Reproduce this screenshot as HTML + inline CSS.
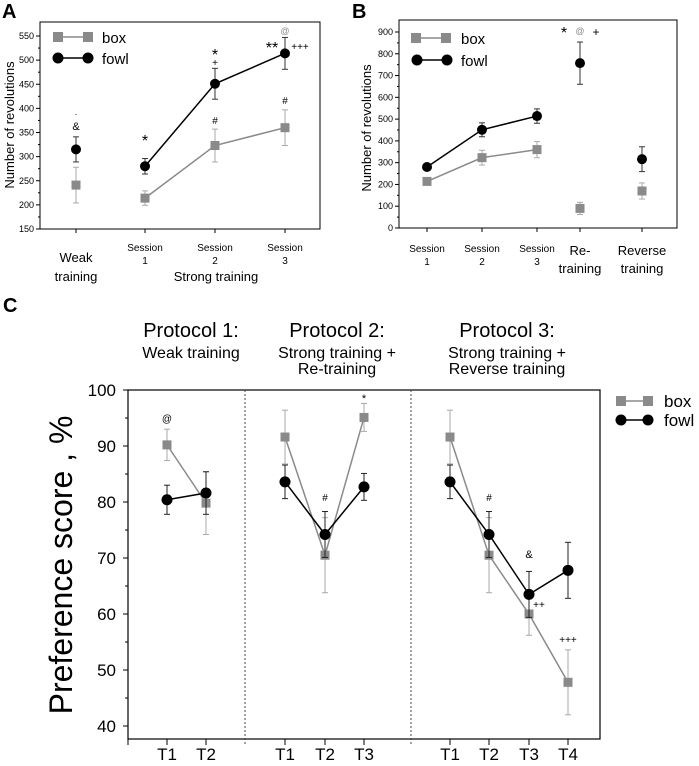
<!DOCTYPE html>
<html><head><meta charset="utf-8"><style>
body{margin:0;background:#fff;}
svg{display:block;font-family:"Liberation Sans",sans-serif;}
</style></head><body>
<svg id="fig" width="699" height="766" viewBox="0 0 699 766"></svg>
<script>
// ---- Panel A data ----
const catsA = ["Weak training","Session 1","Session 2","Session 3"];
const boxA = [241,214,323,360];
const boxAErr = [37,15,34,37];
const fowlA = [315,280,451,514];
const fowlAErr = [26,16,32,33];
const ticksA = [150,200,250,300,350,400,450,500,550];
// ---- Panel B data ----
const catsB = ["Session 1","Session 2","Session 3","Re-training","Reverse training"];
const boxB = [214,323,360,90,170];
const boxBErr = [15,34,37,28,37];
const fowlB = [280,451,514,757,316];
const fowlBErr = [16,32,33,97,57];
const ticksB = [0,100,200,300,400,500,600,700,800,900];
// ---- Panel C data ----
const catsC = ["T1","T2","T1","T2","T3","T1","T2","T3","T4"];
const groupC = [0,0,1,1,1,2,2,2,2];
const boxC = [90.2,79.8,91.6,70.5,95.1,91.6,70.5,60.0,47.8];
const boxCErr = [2.8,5.6,4.8,6.7,2.5,4.8,6.7,3.8,5.8];
const fowlC = [80.4,81.6,83.6,74.2,82.7,83.6,74.2,63.5,67.8];
const fowlCErr = [2.6,3.8,3.0,4.1,2.4,3.0,4.1,4.1,5.0];
const ticksC = [40,50,60,70,80,90,100];

const NS="http://www.w3.org/2000/svg";
const svg=document.getElementById('fig');
const GRAY="#8a8a8a";
function mk(tag,attrs,parent){const e=document.createElementNS(NS,tag);for(const k in attrs)e.setAttribute(k,attrs[k]);(parent||svg).appendChild(e);return e;}
function txt(s,x,y,size,anchor,parent,fill){const t=mk('text',{x:x,y:y,'font-size':size,'text-anchor':anchor||'middle',fill:fill||'#000'},parent);t.textContent=s;return t;}

function errbar(g,x,y1,y2,col,w){mk('line',{x1:x,x2:x,y1:y1,y2:y2,stroke:col,'stroke-width':1},g);mk('line',{x1:x-w,x2:x+w,y1:y1,y2:y1,stroke:col,'stroke-width':1},g);mk('line',{x1:x-w,x2:x+w,y1:y2,y2:y2,stroke:col,'stroke-width':1},g);}

// ===== Panel A =====
(function(){
  const g=mk('g',{});
  
  
  const L=40,R=320,T=22,B=229;
  const xs=[76,145,215,285];
  const y=v=>B-(v-150)*(193/400);
  txt('A',2,18,20,'start',g).setAttribute('font-weight','bold');
  mk('rect',{x:L,y:T,width:R-L,height:B-T,fill:'none',stroke:'#000','stroke-width':1},g);
  ticksA.forEach(v=>{mk('line',{x1:L-4,x2:L,y1:y(v),y2:y(v),stroke:'#000'},g);txt(String(v),L-6,y(v)+3,9,'end',g);});
  for(let v=175;v<575;v+=50) if(y(v)>T) mk('line',{x1:L-2,x2:L,y1:y(v),y2:y(v),stroke:'#000'},g);
  xs.forEach(x=>mk('line',{x1:x,x2:x,y1:B,y2:B+4,stroke:'#000'},g));
  const yt=txt('Number of revolutions',14,125,13,'middle',g);yt.setAttribute('transform','rotate(-90 14 125)');
  
  txt('Weak',76,262,13,'middle',g);txt('training',76,281,13,'middle',g);
  [1,2,3].forEach(i=>{txt('Session',xs[i],251,10,'middle',g);txt(String(i),xs[i],264,10,'middle',g);});
  txt('Strong training',216,281,13,'middle',g);
  // box series
  const bp=[1,2,3].map(i=>xs[i]+','+y(boxA[i])).join(' ');
  mk('polyline',{points:bp,fill:'none',stroke:GRAY,'stroke-width':1.5},g);
  boxA.forEach((v,i)=>{errbar(g,xs[i],y(v+boxAErr[i]),y(v-boxAErr[i]),'#aaa',3);const r=mk('rect',{x:xs[i]-4.5,y:y(v)-4.5,width:9,height:9,fill:GRAY},g);});
  const fp=[1,2,3].map(i=>xs[i]+','+y(fowlA[i])).join(' ');
  mk('polyline',{points:fp,fill:'none',stroke:'#000','stroke-width':1.5},g);
  fowlA.forEach((v,i)=>{errbar(g,xs[i],y(v+fowlAErr[i]),y(v-fowlAErr[i]),'#333',3);const c=mk('circle',{cx:xs[i],cy:y(v),r:5,fill:'#000'},g);});
  // legend
  mk('line',{x1:57,x2:88,y1:37,y2:37,stroke:GRAY,'stroke-width':1.5},g);
  mk('rect',{x:53,y:32,width:10,height:10,fill:GRAY},g);mk('rect',{x:83,y:32,width:10,height:10,fill:GRAY},g);
  txt('box',102,43,15,'start',g);
  mk('line',{x1:58,x2:88,y1:58,y2:58,stroke:'#000','stroke-width':1.5},g);
  mk('circle',{cx:58,cy:58,r:5.5,fill:'#000'},g);mk('circle',{cx:88,cy:58,r:5.5,fill:'#000'},g);
  txt('fowl',102,64,15,'start',g);
  // annotations
  txt('&',76,130,11,'middle',g);txt('·',76,117,9,'middle',g);
  txt('*',145,146,16,'middle',g);
  txt('*',215,60,16,'middle',g);txt('+',215,66,10,'middle',g);txt('#',215,124,10,'middle',g);
  txt('**',272,53,16,'middle',g);txt('+++',300,50,10,'middle',g);txt('@',285,34,9,'middle',g,GRAY);txt('#',285,104,10,'middle',g);
})();

// ===== Panel B =====
(function(){
  const g=mk('g',{});
  
  
  const L=399,R=677,T=20,B=228;
  const xs=[427,482,537,580,642];
  const y=v=>B-v*(196/900);
  txt('B',352,18,20,'start',g).setAttribute('font-weight','bold');
  mk('rect',{x:L,y:T,width:R-L,height:B-T,fill:'none',stroke:'#000','stroke-width':1},g);
  ticksB.forEach(v=>{mk('line',{x1:L-4,x2:L,y1:y(v),y2:y(v),stroke:'#000'},g);txt(String(v),L-6,y(v)+3,9,'end',g);});
  for(let v=50;v<900;v+=100) mk('line',{x1:L-2,x2:L,y1:y(v),y2:y(v),stroke:'#000'},g);
  xs.forEach(x=>mk('line',{x1:x,x2:x,y1:B,y2:B+4,stroke:'#000'},g));
  const yt=txt('Number of revolutions',371,128,13,'middle',g);yt.setAttribute('transform','rotate(-90 371 128)');
  
  [0,1,2].forEach(i=>{txt('Session',xs[i],252,10,'middle',g);txt(String(i+1),xs[i],265,10,'middle',g);});
  txt('Re-',xs[3],255,13,'middle',g);txt('training',xs[3],273,13,'middle',g);
  txt('Reverse',xs[4],255,13,'middle',g);txt('training',xs[4],273,13,'middle',g);
  const bp=[0,1,2].map(i=>xs[i]+','+y(boxB[i])).join(' ');
  mk('polyline',{points:bp,fill:'none',stroke:GRAY,'stroke-width':1.5},g);
  boxB.forEach((v,i)=>{errbar(g,xs[i],y(v+boxBErr[i]),y(v-boxBErr[i]),'#aaa',3);const r=mk('rect',{x:xs[i]-4.5,y:y(v)-4.5,width:9,height:9,fill:GRAY},g);});
  const fp=[0,1,2].map(i=>xs[i]+','+y(fowlB[i])).join(' ');
  mk('polyline',{points:fp,fill:'none',stroke:'#000','stroke-width':1.5},g);
  fowlB.forEach((v,i)=>{errbar(g,xs[i],y(v+fowlBErr[i]),y(v-fowlBErr[i]),'#333',3);const c=mk('circle',{cx:xs[i],cy:y(v),r:5,fill:'#000'},g);});
  mk('line',{x1:416,x2:446,y1:38,y2:38,stroke:GRAY,'stroke-width':1.5},g);
  mk('rect',{x:411,y:33,width:10,height:10,fill:GRAY},g);mk('rect',{x:441,y:33,width:10,height:10,fill:GRAY},g);
  txt('box',461,44,15,'start',g);
  mk('line',{x1:417,x2:447,y1:60,y2:60,stroke:'#000','stroke-width':1.5},g);
  mk('circle',{cx:417,cy:60,r:5.5,fill:'#000'},g);mk('circle',{cx:447,cy:60,r:5.5,fill:'#000'},g);
  txt('fowl',461,66,15,'start',g);
  txt('*',564,38,16,'middle',g);txt('@',580,34,9,'middle',g,GRAY);txt('+',596,36,12,'middle',g);
})();

// ===== Panel C =====
(function(){
  const g=mk('g',{});
  
  
  const L=128,R=600,T=390,B=739;
  const xs=[167,206,285,325,364,450,489,529,568];
  const y=v=>614-(v-60)*5.6;
  txt('C',3,312,20,'start',g).setAttribute('font-weight','bold');
  [['Protocol 1:',191],['Protocol 2:',337],['Protocol 3:',507]].forEach(p=>txt(p[0],p[1],337,20,'middle',g));
  txt('Weak training',191,358,16,'middle',g);
  txt('Strong training +',337,358,16,'middle',g);txt('Re-training',337,374,16,'middle',g);
  txt('Strong training +',507,358,16,'middle',g);txt('Reverse training',507,374,16,'middle',g);
  mk('rect',{x:L,y:T,width:R-L,height:B-T,fill:'none',stroke:'#000','stroke-width':1.2},g);
  [245,411].forEach(x=>mk('line',{x1:x,x2:x,y1:T,y2:B+6,stroke:'#444','stroke-dasharray':'2,2'},g));
  ticksC.forEach(v=>{mk('line',{x1:L-5,x2:L,y1:y(v),y2:y(v),stroke:'#000'},g);txt(String(v),L-12,y(v)+6,17,'end',g);});
  for(let v=45;v<100;v+=10) mk('line',{x1:L-3,x2:L,y1:y(v),y2:y(v),stroke:'#000'},g);
  xs.forEach((x,i)=>{mk('line',{x1:x,x2:x,y1:B,y2:B+6,stroke:'#000'},g);txt(catsC[i],x,760,17,'middle',g);});
  mk('line',{x1:L,x2:L,y1:B,y2:B+6,stroke:'#000'},g);
  const yt=txt('Preference score , %',72,565,32,'middle',g);yt.setAttribute('transform','rotate(-90 72 565)');
  
  [0,1,2].forEach(grp=>{
    const idx=groupC.map((gg,i)=>gg===grp?i:-1).filter(i=>i>=0);
    mk('polyline',{points:idx.map(i=>xs[i]+','+y(boxC[i])).join(' '),fill:'none',stroke:GRAY,'stroke-width':1.5},g);
    mk('polyline',{points:idx.map(i=>xs[i]+','+y(fowlC[i])).join(' '),fill:'none',stroke:'#000','stroke-width':1.5},g);
  });
  boxC.forEach((v,i)=>{errbar(g,xs[i],y(v+boxCErr[i]),y(v-boxCErr[i]),'#aaa',3);const r=mk('rect',{x:xs[i]-4.5,y:y(v)-4.5,width:9,height:9,fill:GRAY},g);});
  fowlC.forEach((v,i)=>{errbar(g,xs[i],y(v+fowlCErr[i]),y(v-fowlCErr[i]),'#222',3);const c=mk('circle',{cx:xs[i],cy:y(v),r:5.5,fill:'#000'},g);});
  mk('line',{x1:620,x2:648,y1:401,y2:401,stroke:GRAY,'stroke-width':1.5},g);
  mk('rect',{x:616,y:396,width:10,height:10,fill:GRAY},g);mk('rect',{x:643,y:396,width:10,height:10,fill:GRAY},g);
  txt('box',664,407,17,'start',g);
  mk('line',{x1:621,x2:648,y1:420,y2:420,stroke:'#000','stroke-width':1.5},g);
  mk('circle',{cx:621,cy:420,r:5.5,fill:'#000'},g);mk('circle',{cx:648,cy:420,r:5.5,fill:'#000'},g);
  txt('fowl',664,426,17,'start',g);
  txt('@',167,422,10,'middle',g);
  txt('#',325,501,10,'middle',g);txt('*',364,402,11,'middle',g);
  txt('#',489,501,10,'middle',g);txt('&',529,558,11,'middle',g);
  txt('++',539,608,10,'middle',g);txt('+++',568,643,10,'middle',g);
})();
</script>
</body></html>
